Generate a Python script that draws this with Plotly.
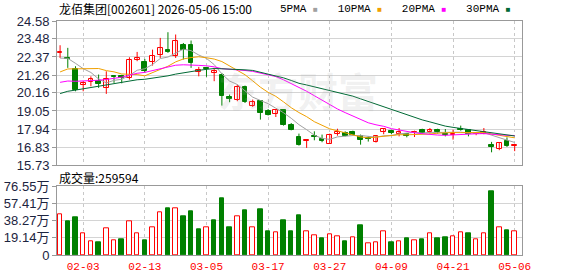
import plotly.graph_objects as go
from plotly.subplots import make_subplots

# ---------------- data ----------------
dates = ["01-29", "01-30", "02-02", "02-03", "02-04", "02-05", "02-06", "02-09", "02-10", "02-11",
         "02-12", "02-13", "02-24", "02-25", "02-26", "02-27", "03-02", "03-03", "03-04", "03-05",
         "03-06", "03-09", "03-10", "03-11", "03-12", "03-13", "03-16", "03-17", "03-18", "03-19",
         "03-20", "03-23", "03-24", "03-25", "03-26", "03-27", "03-30", "03-31", "04-01", "04-02",
         "04-03", "04-07", "04-08", "04-09", "04-10", "04-13", "04-14", "04-15", "04-16", "04-17",
         "04-20", "04-21", "04-22", "04-23", "04-24", "04-27", "04-28", "04-29", "04-30", "05-06"]

opens = [22.62, 22.29, 21.66, 20.65, 20.84, 20.88, 20.47, 21.20, 21.18, 21.08,
         22.21, 22.04, 22.04, 22.48, 22.82, 22.41, 23.13, 23.09, 21.45, 21.70,
         21.39, 21.29, 19.89, 19.75, 20.53, 19.38, 19.65, 19.03, 18.87, 19.09,
         18.21, 17.43, 17.23, 17.53, 17.33, 17.04, 17.66, 17.70, 17.74, 17.53,
         17.39, 17.15, 17.78, 17.84, 17.66, 17.64, 17.74, 17.90, 17.74, 17.90,
         17.66, 17.56, 17.96, 17.86, 17.62, 17.66, 16.98, 16.74, 17.19, 16.92]
highs = [23.09, 22.93, 21.80, 20.88, 21.18, 21.29, 21.49, 21.25, 21.27, 22.35,
         22.68, 22.25, 22.82, 23.54, 23.89, 23.75, 23.23, 23.38, 21.76, 21.76,
         21.70, 21.39, 20.06, 20.67, 20.61, 19.75, 19.70, 19.17, 19.17, 19.13,
         18.31, 17.66, 17.31, 17.80, 17.60, 17.66, 17.96, 17.80, 17.84, 17.60,
         17.49, 17.53, 18.00, 17.90, 18.00, 17.70, 17.84, 17.96, 18.00, 17.96,
         17.94, 17.90, 18.15, 17.94, 17.72, 18.00, 17.15, 17.13, 17.43, 17.00]
lows = [22.31, 21.70, 20.26, 20.26, 20.57, 20.47, 20.10, 20.78, 20.75, 20.98,
        22.11, 21.39, 21.84, 22.31, 22.62, 22.31, 22.21, 21.70, 21.18, 21.15,
        20.88, 19.38, 19.59, 19.65, 19.54, 19.30, 18.52, 18.77, 18.68, 18.15,
        17.86, 16.92, 16.78, 17.25, 17.13, 17.02, 17.53, 17.49, 17.55, 16.98,
        17.17, 17.11, 17.62, 17.62, 17.49, 17.43, 17.45, 17.66, 17.66, 17.66,
        17.49, 17.29, 17.84, 17.49, 17.56, 17.62, 16.51, 16.64, 16.84, 16.58]
closes = [22.70, 22.23, 20.36, 20.77, 21.02, 20.71, 21.02, 21.14, 21.10, 22.21,
          22.29, 21.49, 22.45, 22.93, 22.66, 23.38, 22.82, 22.00, 21.59, 21.61,
          21.49, 19.95, 19.81, 20.53, 19.59, 19.62, 18.93, 18.83, 19.13, 18.21,
          17.90, 16.98, 17.29, 17.43, 17.23, 17.60, 17.74, 17.53, 17.60, 17.25,
          17.33, 17.49, 17.94, 17.68, 17.76, 17.53, 17.78, 17.70, 17.90, 17.74,
          17.60, 17.64, 17.86, 17.64, 17.68, 17.78, 16.82, 17.09, 16.92, 16.98]
# volume in 万 (10k shares)
volumes = [45.3, 37.9, 41.6, 24.2, 15.6, 14.5, 29.7, 16.4, 17.8, 37.5,
           24.2, 16.7, 30.8, 47.6, 52.4, 52.4, 43.5, 49.1, 29.0, 30.8,
           39.0, 63.5, 31.2, 43.1, 50.2, 30.8, 51.3, 26.8, 25.3, 39.0,
           26.8, 44.6, 26.4, 21.9, 18.6, 23.0, 20.8, 15.6, 19.7, 33.4,
           13.0, 14.1, 26.4, 14.5, 15.2, 19.0, 16.4, 17.8, 24.2, 19.0,
           20.1, 21.2, 25.3, 24.5, 17.5, 24.2, 71.3, 30.8, 27.9, 25.96]
# closes before the visible window (estimated from the MA lines) for MA calculation
prior_closes = [18.0, 18.2, 18.4, 18.5, 18.6, 18.8, 19.0, 19.2, 19.3, 19.4,
                20.6, 20.7, 20.6, 20.4, 20.2, 20.1, 19.8, 19.6, 19.7, 20.0,
                20.4, 20.3, 20.7, 20.9, 20.7, 22.3, 21.9, 22.4, 22.2]

price_ticks = [15.73, 16.83, 17.94, 19.05, 20.16, 21.26, 22.37, 23.48, 24.58]
vol_ticks = [0, 19.14, 38.27, 57.41, 76.55]
date_ticks = ["02-03", "02-13", "03-05", "03-17", "03-27", "04-09", "04-21", "05-06"]
ma_periods = [5, 10, 20, 30]
ma_colors = ["#a0a0a0", "#f0a000", "#ff00ff", "#006a35"]
title_text = "龙佰集团[002601] 2026-05-06 15:00"
vol_label = "成交量:259594"

# ---------------- styling ----------------
RED = "#ff0000"
GREEN = "#008000"
W, H = 578, 276
ML, MR, MT, MB = 57, 56, 21, 21
PH = H - MT - MB
PW = W - ML - MR


def py(ypx):
    return (H - MB - ypx) / PH


def px(xpx):
    return (xpx - ML) / PW


idx = list(range(len(dates)))
all_c = prior_closes + closes
off = len(prior_closes)

fig = make_subplots(rows=2, cols=1, shared_xaxes=True)

# wicks
for up in (True, False):
    xs, ys = [], []
    for i in idx:
        if (closes[i] >= opens[i]) == up:
            xs += [i, i, None]
            ys += [lows[i], highs[i], None]
    fig.add_trace(go.Scatter(x=xs, y=ys, mode="lines",
                             line=dict(color=RED if up else GREEN, width=1),
                             hoverinfo="skip", showlegend=False), row=1, col=1)

# bodies
for up in (True, False):
    sel = [i for i in idx if (closes[i] >= opens[i]) == up]
    fig.add_trace(go.Bar(
        x=sel,
        base=[min(opens[i], closes[i]) for i in sel],
        y=[max(abs(closes[i] - opens[i]), 0.02) for i in sel],
        width=0.62,
        marker=dict(color="#ffffff" if up else GREEN,
                    line=dict(color=RED if up else GREEN, width=1)),
        hoverinfo="skip", showlegend=False), row=1, col=1)

# moving averages
for n, c in zip(ma_periods, ma_colors):
    ma = [sum(all_c[off + i - n + 1: off + i + 1]) / n for i in idx]
    fig.add_trace(go.Scatter(x=idx, y=ma, mode="lines",
                             line=dict(color=c, width=1),
                             hoverinfo="skip", showlegend=False), row=1, col=1)

# volume
vol_up = [closes[i] >= (closes[i - 1] if i > 0 else prior_closes[-1]) for i in idx]
fig.add_trace(go.Bar(
    x=idx, y=volumes, width=0.58,
    marker=dict(color=["#ffffff" if u else GREEN for u in vol_up],
                line=dict(color=[RED if u else GREEN for u in vol_up], width=1)),
    hoverinfo="skip", showlegend=False), row=2, col=1)

tickpos = [dates.index(d) for d in date_ticks]
axis_line = "#999999"
grid = "#d4d4d4"
label_font = dict(family="Liberation Sans, Arial, Noto Sans CJK SC", size=13, color="#1c2440")

xcommon = dict(range=[-0.4, len(dates) - 0.05], tickvals=tickpos, ticktext=date_ticks,
               showgrid=True, gridcolor="#c8c8c8", griddash="3px,3px", gridwidth=1,
               showline=True, mirror=True, linecolor=axis_line, linewidth=1,
               zeroline=False, ticks="", automargin=False)
fig.update_xaxes(**xcommon)
fig.update_xaxes(showticklabels=False, row=1, col=1)
fig.update_xaxes(showticklabels=True, row=2, col=1, ticklabelstandoff=1,
                 tickfont=dict(family="Liberation Mono, monospace", size=11, color=RED))

fig.update_yaxes(domain=[py(165), 1.0], range=[price_ticks[0], price_ticks[-1]],
                 tickvals=price_ticks, ticktext=[f"{v:.2f}" for v in price_ticks],
                 showgrid=True, gridcolor=grid, gridwidth=1, zeroline=False,
                 showline=True, mirror=True, linecolor=axis_line, linewidth=1,
                 ticks="outside", ticklen=4, tickcolor=axis_line, automargin=False,
                 tickfont=label_font, row=1, col=1)
fig.update_yaxes(domain=[0.0, py(186.3)], range=[vol_ticks[0], vol_ticks[-1]],
                 tickvals=vol_ticks,
                 ticktext=[("0" if v == 0 else f"{v:.2f}万") for v in vol_ticks],
                 showgrid=True, gridcolor=grid, gridwidth=1, zeroline=False,
                 showline=True, mirror=True, linecolor=axis_line, linewidth=1,
                 ticks="outside", ticklen=4, tickcolor=axis_line, automargin=False,
                 tickfont=label_font, row=2, col=1)

legend_html = "   ".join(
    f"{n}PMA <span style='color:{c};font-size:8px'>■</span>" for n, c in zip(ma_periods, ma_colors))

annotations = [
    dict(text=title_text, x=px(57), y=py(9), xref="paper", yref="paper",
         xanchor="left", yanchor="middle", showarrow=False,
         font=dict(family="Noto Sans CJK SC", size=12, color="#000000")),
    dict(text=legend_html, x=px(513), y=py(9), xref="paper", yref="paper",
         xanchor="right", yanchor="middle", showarrow=False,
         font=dict(family="Liberation Mono, monospace", size=11, color="#000000")),
    dict(text=vol_label, x=px(57), y=py(177), xref="paper", yref="paper",
         xanchor="left", yanchor="middle", showarrow=False,
         font=dict(family="Noto Sans CJK SC", size=12, color="#000000")),
    dict(text="<b>东方财富</b>", x=px(298), y=py(90), xref="paper", yref="paper",
         xanchor="center", yanchor="middle", showarrow=False,
         font=dict(family="Noto Sans CJK SC", size=40, color="rgba(170,170,170,0.18)")),
]

fig.update_layout(width=W, height=H, margin=dict(l=ML, r=MR, t=MT, b=MB, autoexpand=False),
                  paper_bgcolor="#ffffff", plot_bgcolor="#ffffff",
                  barmode="overlay", bargap=0, showlegend=False,
                  annotations=annotations)

fig.write_html("out.html", config={"displayModeBar": False})
